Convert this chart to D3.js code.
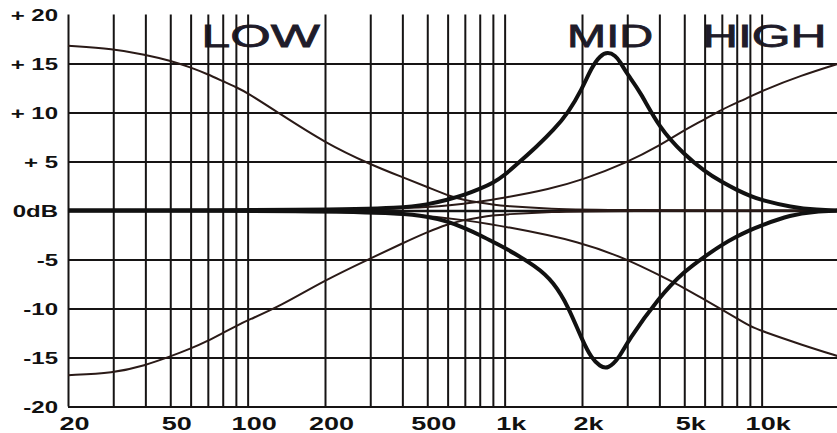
<!DOCTYPE html>
<html>
<head>
<meta charset="utf-8">
<script src="https://cdn.jsdelivr.net/npm/d3@7/dist/d3.min.js"></script>
<style>
  html, body { margin: 0; padding: 0; background: #fff; }
  svg { display: block; }
</style>
</head>
<body>
<svg id="chart" width="837" height="433"></svg>
<script>
// ---------- data ----------
const gridFreqs = [20,30,40,50,60,70,80,90,100, 200,300,400,500,600,700,800,900,1000, 2000,3000,4000,5000,6000,7000,8000,9000,10000];
const gridDb = [-20,-15,-10,-5,0,5,10,15];

const xTickValues = [20,50,100,200,500,1000,2000,5000,10000];
const xTickLabels = ["20","50","100","200","500","1k","2k","5k","10k"];
const yTickValues = [20,15,10,5,0,-5,-10,-15,-20];
const yTickLabels = ["+ 20","+ 15","+ 10","+ 5","0dB","-5","-10","-15","-20"];

const bandNames = ["LOW","MID","HIGH"];
const bandFreqs = [[66,191],[1750,3780],[5860,17900]]; // horizontal extent of each band title (Hz)

// frequency response curves: [Hz, dB]
const lowBoost = [[20,16.8],[30,16.5],[40,15.9],[50,15.3],[60,14.6],[70,13.9],[80,13.2],[90,12.6],[100,12.0],[133,9.9],[200,6.9],[300,4.7],[400,3.4],[500,2.4],[620,1.4],[700,1.05],[800,0.8],[900,0.6],[1000,0.45],[1500,0.15],[2500,0.03],[20000,0]];
const lowCut = [[20,-16.8],[30,-16.6],[40,-15.8],[50,-14.9],[60,-14.1],[70,-13.3],[80,-12.5],[90,-11.8],[100,-11.2],[133,-9.8],[200,-7.1],[300,-4.9],[400,-3.35],[500,-2.2],[600,-1.4],[700,-0.95],[800,-0.7],[900,-0.5],[1000,-0.4],[1500,-0.12],[2500,-0.03],[20000,0]];
const highBoost = [[20,0],[200,0.05],[400,0.2],[500,0.35],[600,0.5],[800,0.9],[1000,1.3],[1500,2.2],[2000,3.1],[3000,4.9],[4000,6.6],[5000,8.2],[6000,9.3],[7000,10.3],[8000,11.0],[9000,11.6],[10000,12.2],[14300,13.8],[20000,15.0]];
const highCut = [[20,0],[200,-0.05],[500,-0.45],[700,-1.0],[1000,-1.6],[2000,-3.2],[3000,-5.0],[4000,-6.6],[5000,-7.9],[6000,-9.1],[7000,-10.1],[8000,-11.0],[9000,-11.8],[10000,-12.3],[14300,-13.7],[20000,-14.9]];
const midBoost = [[20,0],[200,0.05],[400,0.25],[500,0.6],[600,1.1],[700,1.6],[800,2.2],[900,2.8],[1000,3.6],[1148,5.0],[1330,6.5],[1550,8.2],[1770,10.0],[2000,12.4],[2180,14.6],[2350,15.8],[2520,16.2],[2700,15.8],[2810,15.2],[3000,13.9],[3360,12.2],[4000,8.4],[5000,5.7],[6000,4.0],[7000,2.9],[8000,2.1],[9000,1.5],[10000,1.05],[13000,0.35],[16500,0.05],[20000,0]];
const midCut = [[20,0],[200,-0.05],[400,-0.3],[500,-0.6],[600,-1.1],[700,-1.8],[800,-2.5],[900,-3.2],[1000,-3.8],[1330,-5.7],[1550,-7.3],[1770,-9.8],[2000,-13.2],[2180,-15.1],[2350,-15.9],[2520,-16.2],[2800,-15.0],[3000,-13.4],[4000,-8.8],[5000,-6.2],[6000,-4.7],[7000,-3.5],[8000,-2.65],[9000,-2.0],[10000,-1.5],[13000,-0.45],[16000,-0.1],[20000,0]];

const thinCurves = [lowBoost, lowCut, highBoost, highCut];
const thickCurves = [midBoost, midCut];

// ---------- layout ----------
const svg = d3.select("#chart");
const padL = 68, padR = 839, padT = 14.5, padB = 406.5;
const x = d3.scaleLog().domain([20, 20000]).range([padL, padR]);
const y = d3.scaleLinear().domain([-20, 20]).range([padB, padT]);
const stretch = 1.5;
const gridColor = "#161414";
const fontFam = "'Liberation Sans', Arial, Helvetica, sans-serif";

// band titles (behind grid)
const titleG = svg.append("g");
bandNames.forEach((name, i) => {
  const x0 = x(bandFreqs[i][0]), x1 = x(bandFreqs[i][1]);
  titleG.append("text")
    .attr("x", x0).attr("y", 47)
    .attr("textLength", x1 - x0)
    .attr("lengthAdjust", "spacingAndGlyphs")
    .attr("font-family", fontFam)
    .attr("font-size", 32)
    .attr("font-weight", "normal")
    .attr("stroke", "#1f1c2a").attr("stroke-width", 0.8)
    .attr("fill", "#1f1c2a")
    .text(name);
});

// vertical grid via axis
const vGrid = svg.append("g")
  .attr("transform", `translate(0,${padB})`)
  .call(d3.axisBottom(x).tickValues(gridFreqs).tickSize(-(padB - padT)).tickFormat(""));
vGrid.select(".domain").remove();
vGrid.selectAll(".tick line").attr("stroke", gridColor).attr("stroke-width", 2);

// horizontal grid via axis
const hGrid = svg.append("g")
  .attr("transform", `translate(${padL},0)`)
  .call(d3.axisLeft(y).tickValues(gridDb).tickSize(-(837 - padL)).tickFormat(""));
hGrid.select(".domain").remove();
hGrid.selectAll(".tick line").attr("stroke", gridColor)
  .attr("stroke-width", d => d === 0 ? 2.6 : 1.8);

// x labels
const xAxis = svg.append("g")
  .attr("transform", `translate(0,${padB})`)
  .call(d3.axisBottom(x).tickValues(xTickValues).tickSize(0)
    .tickFormat((d, i) => xTickLabels[i]));
xAxis.select(".domain").remove();
xAxis.selectAll(".tick text")
  .attr("y", 23.5).attr("dy", null).attr("x", 6 / stretch)
  .attr("transform", `scale(${stretch},1)`)
  .attr("font-family", fontFam).attr("font-size", 18).attr("font-weight", "bold")
  .attr("fill", "#111");

// y labels
const yAxis = svg.append("g")
  .attr("transform", `translate(${padL},0)`)
  .call(d3.axisLeft(y).tickValues(yTickValues).tickSize(0)
    .tickFormat((d, i) => yTickLabels[i]));
yAxis.select(".domain").remove();
yAxis.selectAll(".tick text")
  .attr("x", -10 / stretch).attr("dy", "0.36em")
  .attr("transform", `scale(${stretch},1)`)
  .attr("font-family", fontFam).attr("font-size", 16).attr("font-weight", "bold")
  .attr("fill", "#111")
  .style("white-space", "pre");

// curves (smoothed B-spline through the read points)
const line = d3.line().x(d => x(d[0])).y(d => y(d[1])).curve(d3.curveBasis);
svg.append("g").selectAll("path").data(thinCurves).join("path")
  .attr("d", line).attr("fill", "none")
  .attr("stroke", "#2a1a17").attr("stroke-width", 2);
svg.append("g").selectAll("path").data(thickCurves).join("path")
  .attr("d", line).attr("fill", "none")
  .attr("stroke", "#111").attr("stroke-width", 4);
</script>
</body>
</html>
